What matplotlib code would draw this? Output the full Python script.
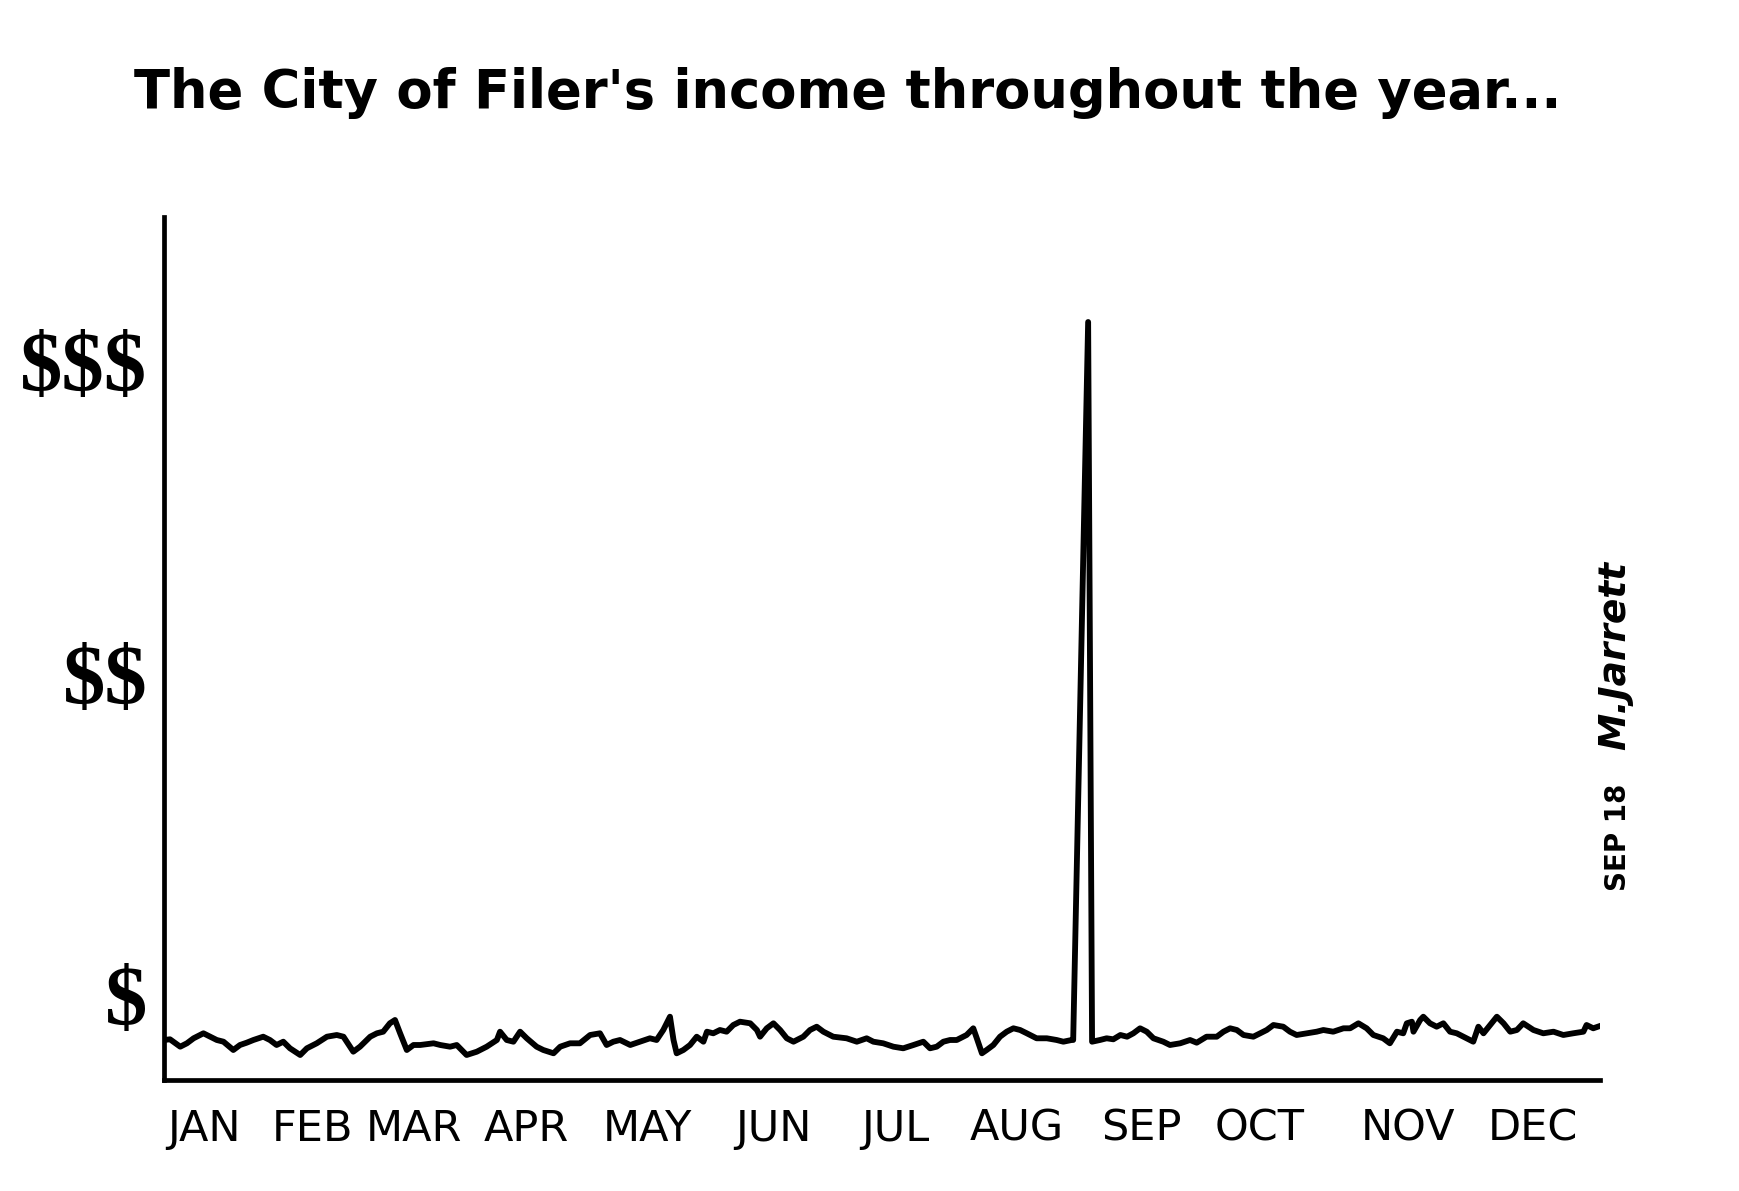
import matplotlib.pyplot as plt

# daily income (day of year, income in arbitrary units)
days = [0, 1.5, 4.1, 5.8, 7.5, 10.0, 11.7, 13.4, 15.1, 17.6, 19.3, 21.0, 22.7, 25.2, 26.9,
        28.6, 30.3, 32.0, 34.6, 36.3, 38.8, 41.4, 43.9, 45.6, 48.1, 49.8, 52.4, 54.1, 55.7,
        57.4, 58.7, 60.0, 61.7, 63.4, 65.1, 68.5, 70.2, 72.7, 74.4, 76.9, 79.5, 82.0, 84.6,
        85.4, 87.1, 88.8, 90.5, 92.2, 94.7, 96.4, 99.0, 100.7, 103.2, 105.7, 108.3, 110.8,
        112.5, 114.2, 115.9, 118.5, 121.0, 123.5, 125.2, 126.9, 128.6, 129.5, 130.3, 132.0,
        133.7, 135.4, 137.1, 138.0, 139.6, 141.3, 143.0, 144.7, 146.4, 149.0, 150.7, 151.5,
        153.2, 154.9, 156.6, 158.3, 160.0, 162.5, 164.2, 165.9, 167.6, 170.1, 173.5, 176.1,
        178.6, 180.3, 182.8, 185.4, 187.9, 190.5, 193.0, 194.7, 196.4, 198.1, 199.8, 201.5,
        204.0, 205.7, 206.6, 207.9, 209.1, 210.8, 212.5, 214.2, 215.9, 217.6, 219.3, 221.8,
        224.4, 226.9, 228.6, 230.7, 231.1, 234.9, 235.9, 237.9, 239.6, 241.3, 243.1, 244.8,
        246.4, 248.1, 249.8, 251.5, 254.0, 255.7, 258.3, 260.8, 262.5, 265.0, 267.6, 269.3,
        271.0, 272.7, 274.4, 276.9, 278.6, 280.3, 282.0, 284.5, 286.2, 287.9, 290.5, 293.0,
        294.7, 297.2, 299.8, 301.5, 303.6, 305.7, 307.4, 309.9, 311.6, 313.4, 315.0, 315.9,
        317.2, 317.6, 319.3, 320.1, 321.8, 323.5, 325.2, 326.9, 328.6, 330.3, 332.8, 334.1,
        335.4, 337.1, 338.8, 340.5, 342.2, 343.9, 345.5, 348.1, 350.6, 353.2, 355.7, 358.2,
        360.8, 361.6, 363.3, 365.0]
income = [4.0, 4.07, 3.33, 3.67, 4.17, 4.67, 4.33, 4.0, 3.83, 3.0, 3.5, 3.73, 4.0, 4.33, 4.0,
          3.5, 3.83, 3.17, 2.5, 3.17, 3.67, 4.33, 4.5, 4.33, 2.83, 3.33, 4.33, 4.67, 4.83,
          5.67, 6.0, 4.67, 3.0, 3.5, 3.5, 3.67, 3.5, 3.33, 3.5, 2.5, 2.83, 3.33, 4.0,
          4.83, 4.0, 3.83, 4.83, 4.17, 3.33, 3.0, 2.67, 3.33, 3.67, 3.67, 4.5, 4.67,
          3.5, 3.83, 4.0, 3.5, 3.83, 4.17, 4.0, 5.0, 6.33, 4.0, 2.67, 3.0,
          3.5, 4.33, 3.83, 4.83, 4.67, 5.0, 4.83, 5.5, 5.83, 5.67, 5.0, 4.33,
          5.17, 5.67, 5.0, 4.17, 3.83, 4.33, 5.0, 5.33, 4.83, 4.33, 4.17, 3.83,
          4.17, 3.83, 3.67, 3.33, 3.17, 3.5, 3.83, 3.17, 3.33, 3.83, 4.0, 4.0,
          4.5, 5.17, 4.17, 2.67, 3.0, 3.5, 4.33, 4.83, 5.17, 5.0, 4.67, 4.17,
          4.17, 4.0, 3.83, 4.0, 4.0, 75.8, 3.83, 4.0, 4.17, 4.07, 4.5, 4.33,
          4.67, 5.17, 4.83, 4.17, 3.83, 3.5, 3.67, 4.0, 3.73, 4.33, 4.33, 4.83,
          5.17, 5.0, 4.5, 4.33, 4.67, 5.0, 5.5, 5.33, 4.83, 4.5, 4.67, 4.83,
          5.0, 4.83, 5.17, 5.17, 5.67, 5.17, 4.5, 4.17, 3.67, 4.83, 4.67, 5.67,
          5.83, 4.83, 6.0, 6.33, 5.67, 5.33, 5.67, 4.83, 4.67, 4.33, 3.83, 5.33,
          4.67, 5.5, 6.33, 5.67, 4.83, 5.0, 5.67, 5.0, 4.67, 4.83, 4.5, 4.67,
          4.83, 5.5, 5.17, 5.4]

months = ['JAN', 'FEB', 'MAR', 'APR', 'MAY', 'JUN', 'JUL', 'AUG', 'SEP', 'OCT', 'NOV', 'DEC']
month_pos = [10.2, 37.7, 63.6, 92.2, 122.8, 155.0, 185.8, 216.8, 248.5, 278.4, 316.1, 347.9]
money_labels = ['$', '$$', '$$$']
money_pos = [8.4, 40.5, 71.8]

plt.rcParams['text.parse_math'] = False

fig = plt.figure(figsize=(17.4, 11.91), dpi=100)
ax = fig.add_axes([0.0943, 0.0932, 0.8252, 0.7246])

ax.plot(days, income, color='black', linewidth=4.2, solid_joinstyle='round')

ax.set_xlim(0, 365)
ax.set_ylim(0, 86.3)
for s in ['top', 'right']:
    ax.spines[s].set_visible(False)
for s in ['left', 'bottom']:
    ax.spines[s].set_linewidth(3.4)

ax.set_xticks(month_pos)
ax.set_xticklabels(months, fontsize=31)
ax.set_yticks(money_pos)
ax.set_yticklabels(money_labels, fontsize=61, fontweight='bold', family='Liberation Serif')
ax.tick_params(axis='x', length=0, pad=20)
ax.tick_params(axis='y', length=0, pad=12)

fig.text(0.487, 0.922, "The City of Filer's income throughout the year...",
         ha='center', va='center', fontsize=38, fontweight='bold')

fig.text(0.928, 0.45, 'M.Jarrett', rotation=90, ha='center', va='center',
         fontsize=27, style='italic', fontweight='bold')
fig.text(0.93, 0.297, 'SEP 18', rotation=90, ha='center', va='center',
         fontsize=20, fontweight='bold')

fig.savefig('out.png', dpi=100, facecolor='white')
